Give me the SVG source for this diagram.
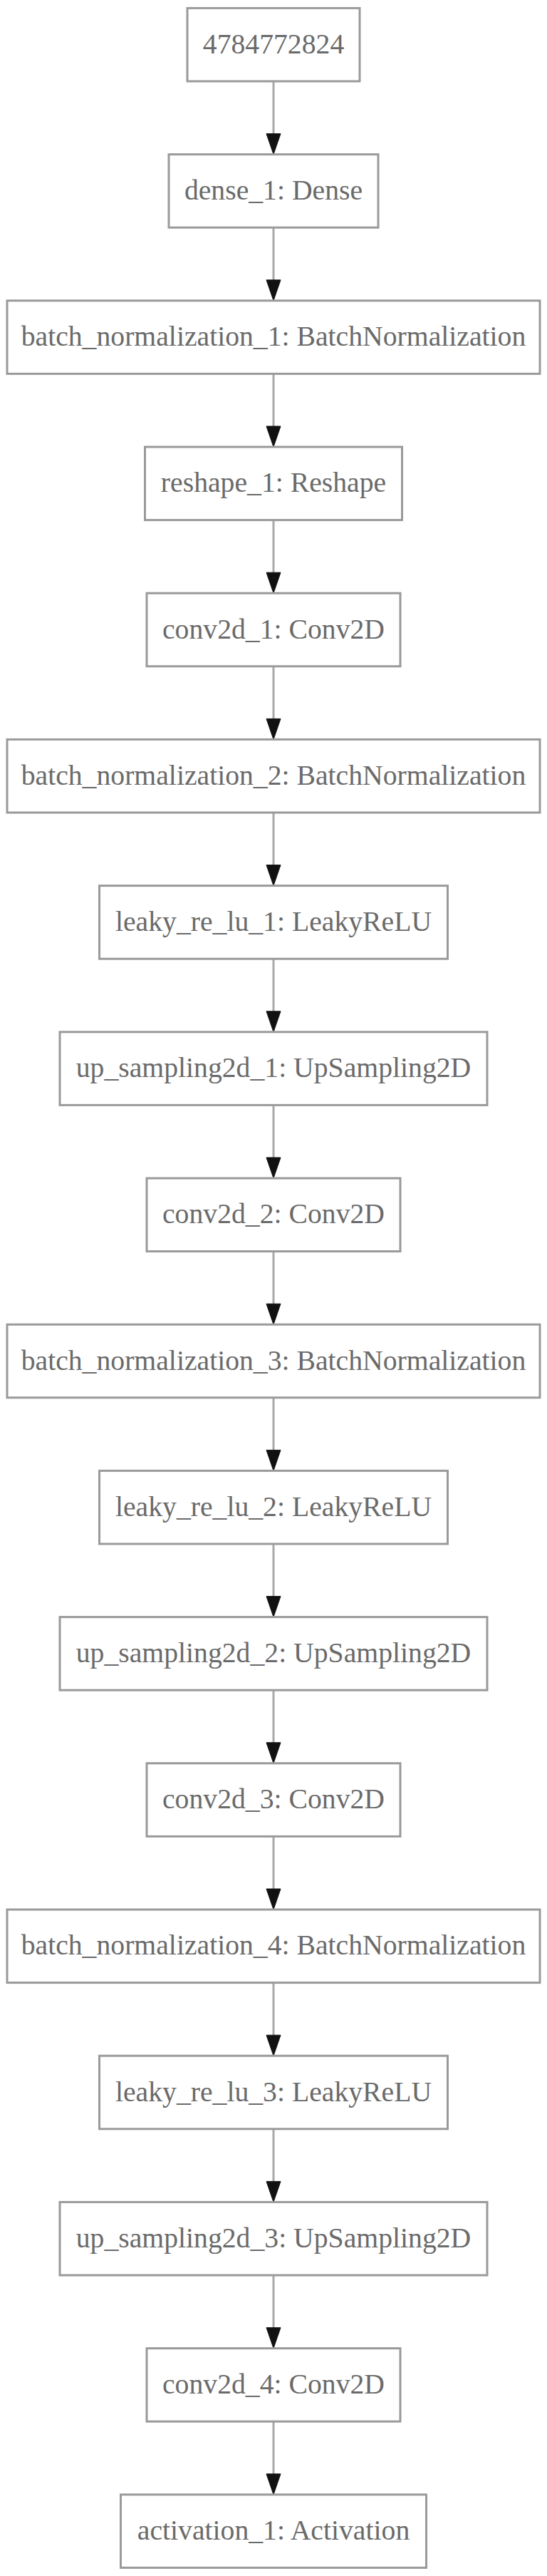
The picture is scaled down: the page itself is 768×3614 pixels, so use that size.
<svg xmlns="http://www.w3.org/2000/svg" width="768" height="3614" viewBox="0 0 768 3614">
<style>
.box{fill:#ffffff;stroke:#9a9a9a;stroke-width:3}
.lbl{font-family:"Liberation Serif","Times New Roman",serif;font-size:39.7px;fill:#6a6a6a;text-anchor:middle}
.edge{stroke:#a8a8a8;stroke-width:3;fill:none}
.head{fill:#111111;stroke:#111111;stroke-width:1}
</style>
<rect x="0" y="0" width="768" height="3614" fill="#ffffff"/>
<g id="connectors">
<line class="edge" x1="384" y1="114" x2="384" y2="188"/><polygon class="head" points="374,187.6 394,187.6 384,216.6"/>
<line class="edge" x1="384" y1="319.2" x2="384" y2="393"/><polygon class="head" points="374,392.8 394,392.8 384,421.8"/>
<line class="edge" x1="384" y1="524.4" x2="384" y2="598"/><polygon class="head" points="374,598 394,598 384,627"/>
<line class="edge" x1="384" y1="729.6" x2="384" y2="803"/><polygon class="head" points="374,803.2 394,803.2 384,832.2"/>
<line class="edge" x1="384" y1="934.8" x2="384" y2="1008"/><polygon class="head" points="374,1008.4 394,1008.4 384,1037.4"/>
<line class="edge" x1="384" y1="1140" x2="384" y2="1214"/><polygon class="head" points="374,1213.6 394,1213.6 384,1242.6"/>
<line class="edge" x1="384" y1="1345.2" x2="384" y2="1419"/><polygon class="head" points="374,1418.8 394,1418.8 384,1447.8"/>
<line class="edge" x1="384" y1="1550.4" x2="384" y2="1624"/><polygon class="head" points="374,1624 394,1624 384,1653"/>
<line class="edge" x1="384" y1="1755.6" x2="384" y2="1829"/><polygon class="head" points="374,1829.2 394,1829.2 384,1858.2"/>
<line class="edge" x1="384" y1="1960.8" x2="384" y2="2034"/><polygon class="head" points="374,2034.4 394,2034.4 384,2063.4"/>
<line class="edge" x1="384" y1="2166" x2="384" y2="2240"/><polygon class="head" points="374,2239.6 394,2239.6 384,2268.6"/>
<line class="edge" x1="384" y1="2371.2" x2="384" y2="2445"/><polygon class="head" points="374,2444.8 394,2444.8 384,2473.8"/>
<line class="edge" x1="384" y1="2576.4" x2="384" y2="2650"/><polygon class="head" points="374,2650 394,2650 384,2679"/>
<line class="edge" x1="384" y1="2781.6" x2="384" y2="2855"/><polygon class="head" points="374,2855.2 394,2855.2 384,2884.2"/>
<line class="edge" x1="384" y1="2986.8" x2="384" y2="3060"/><polygon class="head" points="374,3060.4 394,3060.4 384,3089.4"/>
<line class="edge" x1="384" y1="3192" x2="384" y2="3266"/><polygon class="head" points="374,3265.6 394,3265.6 384,3294.6"/>
<line class="edge" x1="384" y1="3397.2" x2="384" y2="3471"/><polygon class="head" points="374,3470.8 394,3470.8 384,3499.8"/>
</g>
<g id="n0"><rect class="box" x="263" y="11.4" width="242" height="102.6"/><text class="lbl" x="384" y="74.7">4784772824</text></g>
<g id="n1"><rect class="box" x="237" y="216.6" width="294" height="102.6"/><text class="lbl" x="384" y="279.9">dense_1: Dense</text></g>
<g id="n2"><rect class="box" x="10" y="421.8" width="748" height="102.6"/><text class="lbl" x="384" y="485.1">batch_normalization_1: BatchNormalization</text></g>
<g id="n3"><rect class="box" x="203.5" y="627" width="361" height="102.6"/><text class="lbl" x="384" y="690.3">reshape_1: Reshape</text></g>
<g id="n4"><rect class="box" x="206" y="832.2" width="356" height="102.6"/><text class="lbl" x="384" y="895.5">conv2d_1: Conv2D</text></g>
<g id="n5"><rect class="box" x="10" y="1037.4" width="748" height="102.6"/><text class="lbl" x="384" y="1100.7">batch_normalization_2: BatchNormalization</text></g>
<g id="n6"><rect class="box" x="139.5" y="1242.6" width="489" height="102.6"/><text class="lbl" x="384" y="1305.9">leaky_re_lu_1: LeakyReLU</text></g>
<g id="n7"><rect class="box" x="84" y="1447.8" width="600" height="102.6"/><text class="lbl" x="384" y="1511.1">up_sampling2d_1: UpSampling2D</text></g>
<g id="n8"><rect class="box" x="206" y="1653" width="356" height="102.6"/><text class="lbl" x="384" y="1716.3">conv2d_2: Conv2D</text></g>
<g id="n9"><rect class="box" x="10" y="1858.2" width="748" height="102.6"/><text class="lbl" x="384" y="1921.5">batch_normalization_3: BatchNormalization</text></g>
<g id="n10"><rect class="box" x="139.5" y="2063.4" width="489" height="102.6"/><text class="lbl" x="384" y="2126.7">leaky_re_lu_2: LeakyReLU</text></g>
<g id="n11"><rect class="box" x="84" y="2268.6" width="600" height="102.6"/><text class="lbl" x="384" y="2331.9">up_sampling2d_2: UpSampling2D</text></g>
<g id="n12"><rect class="box" x="206" y="2473.8" width="356" height="102.6"/><text class="lbl" x="384" y="2537.1">conv2d_3: Conv2D</text></g>
<g id="n13"><rect class="box" x="10" y="2679" width="748" height="102.6"/><text class="lbl" x="384" y="2742.3">batch_normalization_4: BatchNormalization</text></g>
<g id="n14"><rect class="box" x="139.5" y="2884.2" width="489" height="102.6"/><text class="lbl" x="384" y="2947.5">leaky_re_lu_3: LeakyReLU</text></g>
<g id="n15"><rect class="box" x="84" y="3089.4" width="600" height="102.6"/><text class="lbl" x="384" y="3152.7">up_sampling2d_3: UpSampling2D</text></g>
<g id="n16"><rect class="box" x="206" y="3294.6" width="356" height="102.6"/><text class="lbl" x="384" y="3357.9">conv2d_4: Conv2D</text></g>
<g id="n17"><rect class="box" x="169.5" y="3499.8" width="429" height="102.6"/><text class="lbl" x="384" y="3563.1">activation_1: Activation</text></g>
</svg>
